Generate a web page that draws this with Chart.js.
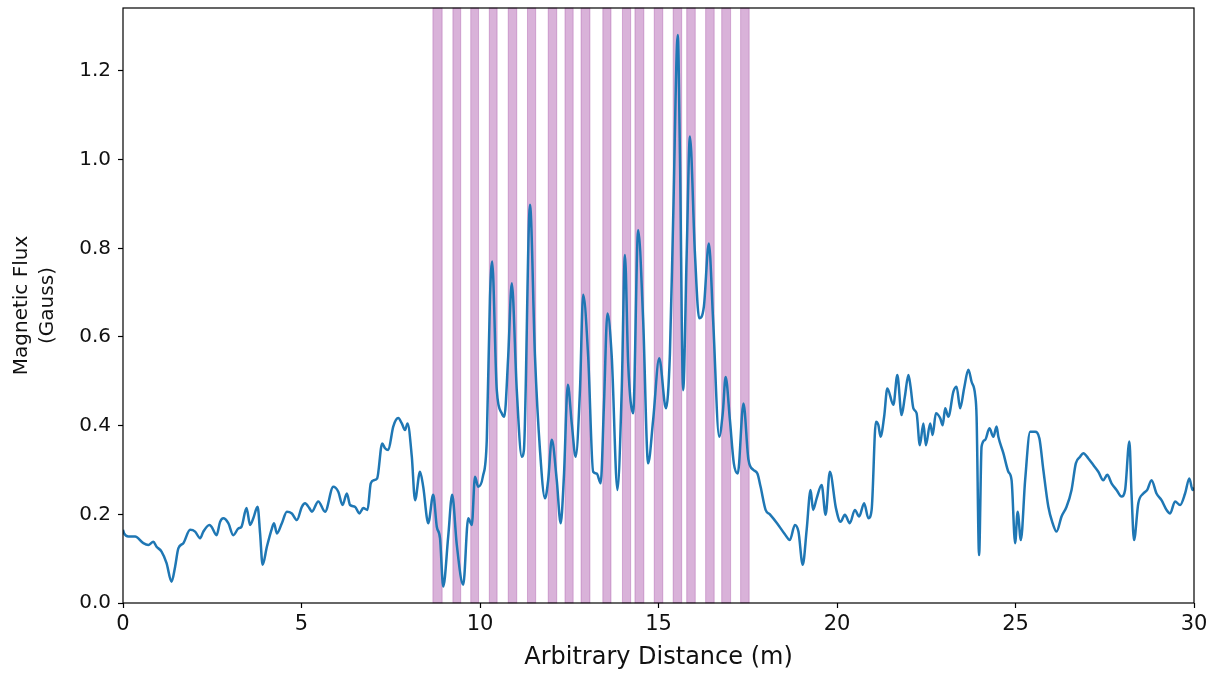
<!DOCTYPE html>
<html>
<head>
<meta charset="utf-8">
<script src="https://cdn.jsdelivr.net/npm/chart.js@4"></script>
<style>
  html, body { margin: 0; padding: 0; background: #fff; }
  #wrap { width: 1214px; height: 673px; }
</style>
</head>
<body>
<div id="wrap"><canvas id="flux"></canvas></div>
<script>
// distance along the survey line (m)
const distance = [
  0, 0.03, 0.15, 0.34, 0.57, 0.71, 0.85, 0.94, 1.08, 1.22,
  1.36, 1.46, 1.55, 1.69, 1.88, 2.02, 2.16, 2.25, 2.42, 2.48,
  2.62, 2.72, 2.81, 2.95, 3.09, 3.23, 3.32, 3.46, 3.56, 3.65,
  3.77, 3.84, 3.91, 4.03, 4.17, 4.23, 4.31, 4.45, 4.59, 4.73,
  4.87, 5.01, 5.10, 5.22, 5.29, 5.47, 5.66, 5.89, 6.03, 6.15,
  6.27, 6.36, 6.50, 6.62, 6.73, 6.85, 6.94, 7.03, 7.12, 7.26,
  7.34, 7.43, 7.57, 7.71, 7.81, 7.90, 7.97, 8.09, 8.18, 8.32,
  8.41, 8.55, 8.69, 8.79, 8.88, 8.97, 9.11, 9.22, 9.35, 9.53,
  9.67, 9.77, 9.86, 9.95, 10.08, 10.19, 10.28, 10.34, 10.47, 10.61,
  10.68, 10.79, 10.89, 11.03, 11.17, 11.23, 11.40, 11.54, 11.68, 11.82,
  11.91, 12.01, 12.15, 12.26, 12.35, 12.46, 12.57, 12.68, 12.80, 12.89,
  13.03, 13.17, 13.27, 13.38, 13.47, 13.57, 13.69, 13.85, 13.97, 14.06,
  14.15, 14.29, 14.43, 14.57, 14.71, 14.85, 15.02, 15.21, 15.32, 15.41,
  15.54, 15.60, 15.69, 15.79, 15.88, 16.02, 16.14, 16.27, 16.41, 16.53,
  16.70, 16.80, 16.88, 17.00, 17.11, 17.22, 17.38, 17.52, 17.66, 17.77,
  17.86, 18.00, 18.12, 18.32, 18.54, 18.68, 18.82, 18.92, 19.04, 19.15,
  19.26, 19.33, 19.43, 19.57, 19.68, 19.80, 19.97, 20.10, 20.22, 20.36,
  20.50, 20.62, 20.76, 20.88, 20.97, 21.09, 21.16, 21.22, 21.32, 21.41,
  21.58, 21.69, 21.81, 21.90, 22.00, 22.06, 22.14, 22.23, 22.32, 22.42,
  22.49, 22.61, 22.68, 22.77, 22.89, 22.96, 23.03, 23.12, 23.26, 23.35,
  23.45, 23.56, 23.68, 23.77, 23.87, 23.91, 23.98, 24.05, 24.15, 24.27,
  24.38, 24.47, 24.52, 24.66, 24.80, 24.89, 24.99, 25.06, 25.15, 25.27,
  25.41, 25.55, 25.67, 25.78, 25.92, 26.04, 26.15, 26.29, 26.43, 26.57,
  26.69, 26.81, 26.90, 27.04, 27.18, 27.32, 27.46, 27.57, 27.69, 27.83,
  27.97, 28.07, 28.19, 28.25, 28.32, 28.44, 28.58, 28.69, 28.81, 28.95,
  29.09, 29.23, 29.33, 29.47, 29.61, 29.75, 29.87, 29.96, 30.0
];

// measured flux (Gauss), one per distance
const flux = [
  0.165, 0.157, 0.15, 0.15, 0.135, 0.131, 0.138, 0.127, 0.116, 0.09,
  0.048, 0.082, 0.123, 0.135, 0.165, 0.161, 0.146, 0.161, 0.176, 0.172,
  0.153, 0.183, 0.191, 0.18, 0.153, 0.168, 0.172, 0.214, 0.176, 0.191,
  0.217, 0.157, 0.086, 0.127, 0.168, 0.18, 0.157, 0.18, 0.206, 0.202,
  0.187, 0.217, 0.225, 0.214, 0.206, 0.229, 0.206, 0.262, 0.251, 0.221,
  0.247, 0.221, 0.217, 0.202, 0.214, 0.21, 0.27, 0.277, 0.281, 0.36,
  0.349, 0.345, 0.398, 0.417, 0.405, 0.39, 0.405, 0.33, 0.232, 0.296,
  0.262, 0.18, 0.244, 0.172, 0.146, 0.037, 0.15, 0.244, 0.131, 0.041,
  0.191, 0.176, 0.285, 0.262, 0.285, 0.368, 0.691, 0.77, 0.48, 0.428,
  0.42, 0.556, 0.721, 0.48, 0.33, 0.345, 0.898, 0.556, 0.345, 0.236,
  0.277, 0.368, 0.277, 0.18, 0.285, 0.492, 0.405, 0.33, 0.48, 0.695,
  0.556, 0.296, 0.292, 0.27, 0.443, 0.653, 0.556, 0.255, 0.48, 0.785,
  0.541, 0.428, 0.841, 0.638, 0.315, 0.413, 0.552, 0.439, 0.563, 0.864,
  1.281, 1.014, 0.48, 0.789, 1.052, 0.789, 0.642, 0.668, 0.811, 0.638,
  0.375, 0.428, 0.51, 0.413, 0.315, 0.292, 0.45, 0.323, 0.30, 0.292,
  0.262, 0.21, 0.2, 0.18, 0.155, 0.142, 0.176, 0.161, 0.086, 0.165,
  0.255, 0.21, 0.236, 0.266, 0.199, 0.296, 0.214, 0.183, 0.199, 0.18,
  0.21, 0.195, 0.225, 0.191, 0.21, 0.409, 0.401, 0.375, 0.42, 0.484,
  0.447, 0.514, 0.424, 0.465, 0.514, 0.488, 0.439, 0.428, 0.356, 0.405,
  0.356, 0.405, 0.379, 0.428, 0.417, 0.401, 0.439, 0.42, 0.477, 0.488,
  0.439, 0.484, 0.526, 0.499, 0.469, 0.42, 0.108, 0.353, 0.368, 0.394,
  0.375, 0.398, 0.375, 0.338, 0.296, 0.277, 0.135, 0.206, 0.142, 0.277,
  0.386, 0.386, 0.371, 0.30, 0.217, 0.18, 0.161, 0.195, 0.217, 0.255,
  0.315, 0.33, 0.338, 0.326, 0.311, 0.296, 0.277, 0.289, 0.27, 0.255,
  0.24, 0.255, 0.364, 0.247, 0.142, 0.225, 0.247, 0.255, 0.277, 0.247,
  0.232, 0.21, 0.202, 0.229, 0.221, 0.247, 0.281, 0.255, 0.26
];

// magnet strip positions (start / end, m)
const bandStart = [8.68, 9.24, 9.74, 10.26, 10.79, 11.33, 11.91, 12.38, 12.83,
                   13.44, 13.99, 14.34, 14.88, 15.41, 15.79, 16.32, 16.77, 17.30];
const bandEnd   = [8.94, 9.46, 9.96, 10.48, 11.03, 11.56, 12.15, 12.61, 13.08,
                   13.67, 14.22, 14.59, 15.12, 15.65, 16.03, 16.56, 17.02, 17.54];

const xTicks = [0, 5, 10, 15, 20, 25, 30];
const yTicks = [0, 0.2, 0.4, 0.6, 0.8, 1.0, 1.2];

const FONT = "'DejaVu Sans', sans-serif";

const points = distance.map((d, i) => ({ x: d, y: flux[i] }));

// shaded strips behind the trace
const bandsPlugin = {
  id: 'bands',
  beforeDatasetsDraw(chart) {
    const { ctx, chartArea, scales } = chart;
    ctx.save();
    ctx.fillStyle = 'rgba(128, 0, 128, 0.3)';
    ctx.strokeStyle = 'rgba(128, 0, 128, 0.25)';
    ctx.lineWidth = 1;
    for (let i = 0; i < bandStart.length; i++) {
      const x0 = scales.x.getPixelForValue(bandStart[i]);
      const x1 = scales.x.getPixelForValue(bandEnd[i]);
      ctx.fillRect(x0, chartArea.top, x1 - x0, chartArea.bottom - chartArea.top);
      ctx.strokeRect(x0, chartArea.top, x1 - x0, chartArea.bottom - chartArea.top);
    }
    ctx.restore();
  }
};

// box around the plot area
const framePlugin = {
  id: 'frame',
  afterDatasetsDraw(chart) {
    const { ctx, chartArea } = chart;
    ctx.save();
    ctx.strokeStyle = '#000';
    ctx.lineWidth = 1.2;
    ctx.strokeRect(chartArea.left, chartArea.top,
                   chartArea.right - chartArea.left, chartArea.bottom - chartArea.top);
    ctx.restore();
  }
};

new Chart(document.getElementById('flux'), {
  type: 'line',
  data: {
    datasets: [{
      data: points,
      borderColor: '#1f77b4',
      borderWidth: 2.5,
      pointRadius: 0,
      cubicInterpolationMode: 'monotone',
      fill: false
    }]
  },
  options: {
    responsive: true,
    maintainAspectRatio: false,
    animation: false,
    layout: { padding: { top: 8, right: 20, left: 0, bottom: 0 } },
    plugins: { legend: { display: false }, tooltip: { enabled: false } },
    scales: {
      x: {
        type: 'linear',
        min: 0,
        max: 30,
        afterBuildTicks: s => { s.ticks = xTicks.map(v => ({ value: v })); },
        afterFit: s => { s.height = 70; s.paddingLeft = 0; s.paddingRight = 0; },
        grid: { display: true, drawOnChartArea: false, drawTicks: true,
                tickLength: 5, tickColor: '#000', tickWidth: 1.2 },
        border: { display: false },
        ticks: { color: '#111', font: { family: FONT, size: 21 }, padding: 4,
                 maxRotation: 0, callback: v => String(v) },
        title: { display: true, text: 'Arbitrary Distance (m)', color: '#111',
                 font: { family: FONT, size: 24, lineHeight: 1.2 },
                 padding: { top: 0, bottom: 1 } }
      },
      y: {
        min: 0,
        max: 1.342,
        afterBuildTicks: s => { s.ticks = yTicks.map(v => ({ value: v })); },
        afterFit: s => { s.width = 123; s.paddingTop = 0; s.paddingBottom = 0; },
        grid: { display: true, drawOnChartArea: false, drawTicks: true,
                tickLength: 5, tickColor: '#000', tickWidth: 1.2 },
        border: { display: false },
        ticks: { color: '#111', font: { family: FONT, size: 20 }, padding: 7,
                 callback: v => v.toFixed(1) },
        title: { display: true, text: ['Magnetic Flux', '(Gauss)'], color: '#111',
                 font: { family: FONT, size: 20, lineHeight: 1.3 },
                 padding: { top: 9, bottom: 0 } }
      }
    }
  },
  plugins: [bandsPlugin, framePlugin]
});
</script>
</body>
</html>
